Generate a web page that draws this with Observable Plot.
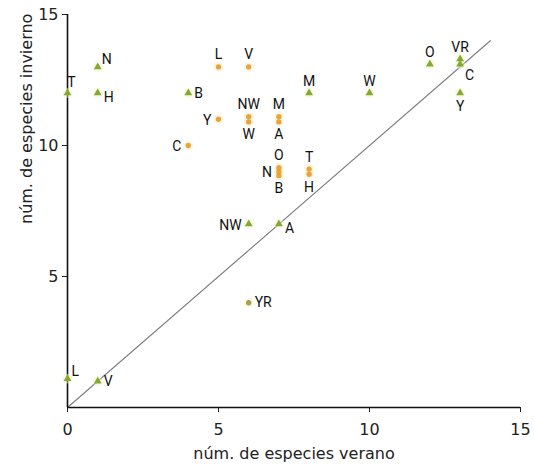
<!DOCTYPE html>
<html><head><meta charset="utf-8">
<script src="https://cdn.jsdelivr.net/npm/d3@7"></script>
<script src="https://cdn.jsdelivr.net/npm/@observablehq/plot@0.6"></script>
<style>body{margin:0;background:#fff}</style>
</head><body><div id="chart"></div>
<script>
// Green triangles
const greenSites    = ["T","N","H","B","M","W","O","VR","C","Y","NW","A","L","V"];
const greenVerano   = [0, 1, 1, 4, 8, 10, 12, 13, 13, 13, 6, 7, 0, 1];
const greenInvierno = [12, 13, 12, 12, 12, 12, 13.1, 13.3, 13.1, 12, 7, 7, 1.1, 1];
const greenLabelPos = ["nr","ne","se","e","n","n","n","n","sse","s","w","se","ne","e"];

// Orange circles
const orangeSites    = ["L","V","Y","NW","W","M","A","C","O","N","B","T","H"];
const orangeVerano   = [5, 6, 5, 6, 6, 7, 7, 4, 7, 7, 7, 8, 8];
const orangeInvierno = [13, 13, 11, 11.1, 10.9, 11.1, 10.9, 10, 9.15, 9, 8.85, 9.1, 8.9];
const orangeLabelPos = ["n","n","w","n","s","n","s","w","n","w","s","n","s"];

// Olive circle
const oliveSites    = ["YR"];
const oliveVerano   = [6];
const oliveInvierno = [4];
const oliveLabelPos = ["e"];

const xTicks = [0, 5, 10, 15];
const yTicks = [5, 10, 15];
const identityLine = [0, 14];
const xTitle = ["núm. de especies verano"];
const yTitle = ["núm. de especies invierno"];

const mk = (sites, xs, ys, pos) => sites.map((s, i) => ({site: s, verano: xs[i], invierno: ys[i], pos: pos[i]}));
const green = mk(greenSites, greenVerano, greenInvierno, greenLabelPos);
const orange = mk(orangeSites, orangeVerano, orangeInvierno, orangeLabelPos);
const olive = mk(oliveSites, oliveVerano, oliveInvierno, oliveLabelPos);
const all = [...green, ...orange, ...olive];

const placement = {
  n:   {dx: 0,  dy: -12, anchor: "middle"},
  nr:  {dx: 4,  dy: -11, anchor: "middle"},
  s:   {dx: 0,  dy: 13,  anchor: "middle"},
  e:   {dx: 6,  dy: 0,   anchor: "start"},
  w:   {dx: -7, dy: 1,   anchor: "end"},
  ne:  {dx: 4,  dy: -7,  anchor: "start"},
  se:  {dx: 6,  dy: 4,   anchor: "start"},
  sse: {dx: 5,  dy: 11,  anchor: "start"}
};
const labelFont = "Roboto, 'Liberation Sans', sans-serif";
const labelMarks = Object.entries(placement).map(([code, p]) =>
  Plot.text(all.filter(d => d.pos === code), {
    x: "verano", y: "invierno", text: "site",
    dx: p.dx, dy: p.dy, textAnchor: p.anchor,
    fontSize: 14, fontWeight: "normal", fontFamily: labelFont, fill: "#111"
  })
);

const chart = Plot.plot({
  width: 534, height: 467,
  marginLeft: 67, marginRight: 14, marginTop: 14, marginBottom: 60,
  style: {fontFamily: "'DejaVu Sans', sans-serif", background: "#fff", color: "#222"},
  x: {domain: [0, 15]},
  y: {domain: [0, 15]},
  marks: [
    Plot.axisX({ticks: xTicks, tickSize: 5, tickPadding: 11, fontSize: 16, label: null}),
    Plot.axisY({ticks: yTicks, tickSize: 5, tickPadding: 4, fontSize: 16, label: null}),
    Plot.text(xTitle, {frameAnchor: "bottom", dy: 51, fontSize: 16, fill: "#222", text: d => d, lineAnchor: "bottom"}),
    Plot.text(yTitle, {frameAnchor: "left", rotate: -90, dx: -36, dy: 13, fontSize: 16, fill: "#222", text: d => d, lineAnchor: "bottom"}),
    Plot.line(identityLine, {x: d => d, y: d => d, stroke: "#808080", strokeWidth: 1.2}),
    Plot.ruleX([0], {stroke: "#111", strokeWidth: 1.6}),
    Plot.ruleY([0], {stroke: "#111", strokeWidth: 1.6}),
    Plot.dot(all, {x: "verano", y: "invierno", r: 5, fill: "#f4f0c4", fillOpacity: 0.45}),
    Plot.dot(green, {x: "verano", y: "invierno", symbol: "triangle", r: 2.9, fill: "#82a930"}),
    Plot.dot(orange, {x: "verano", y: "invierno", r: 2.7, fill: "#e99a2a", fillOpacity: 0.9}),
    Plot.dot(olive, {x: "verano", y: "invierno", r: 2.7, fill: "#a9a04a"}),
    ...labelMarks
  ]
});
document.getElementById("chart").append(chart);
</script>
</body></html>
